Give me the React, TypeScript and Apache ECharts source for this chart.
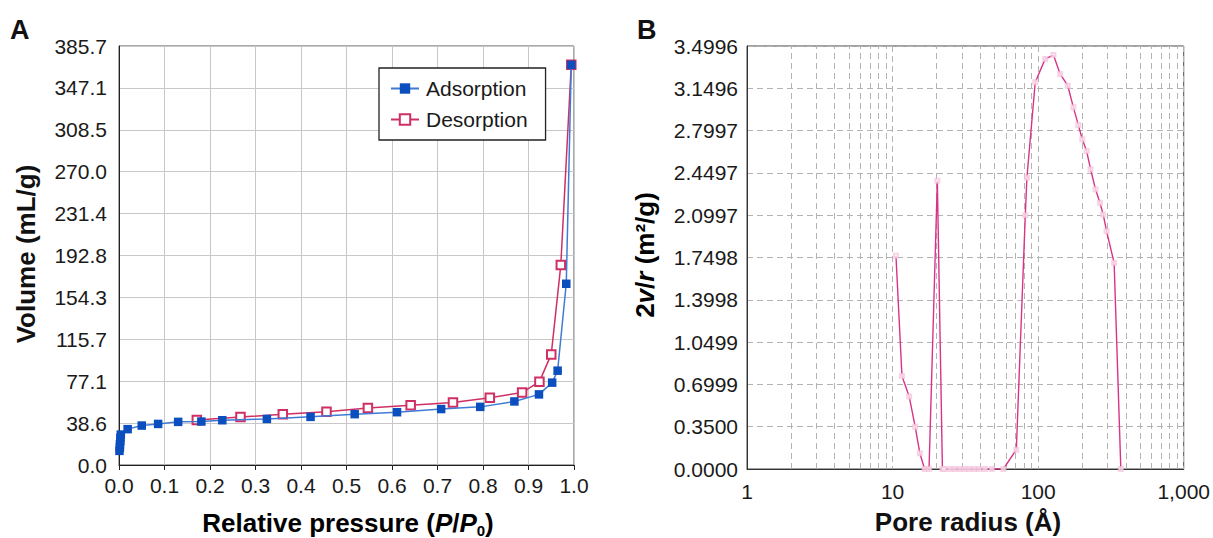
import React, { useEffect, useRef } from "react";
import * as echarts from "echarts";

// Panel A: N2 adsorption/desorption isotherm
const adsorptionP = [0.001, 0.002, 0.002, 0.003, 0.003, 0.004, 0.019, 0.05, 0.086, 0.13, 0.181, 0.227, 0.325, 0.421, 0.518, 0.611, 0.708, 0.794, 0.869, 0.923, 0.952, 0.964, 0.983, 0.994];
const adsorptionV = [13, 16, 19, 22, 25, 28, 33, 36.3, 37.8, 39.7, 40, 41.2, 42.4, 44.3, 46.8, 48.6, 51.5, 53.5, 58.5, 65, 75.8, 86.8, 166.8, 368.3];
const desorptionP = [0.171, 0.267, 0.36, 0.456, 0.547, 0.641, 0.734, 0.815, 0.886, 0.924, 0.95, 0.971, 0.994];
const desorptionV = [41.5, 44.1, 46.7, 49.0, 52.5, 54.9, 57.5, 61.9, 66.7, 76.7, 101.8, 184, 368.3];
const yTicksA = ["0.0", "38.6", "77.1", "115.7", "154.3", "192.8", "231.4", "270.0", "308.5", "347.1", "385.7"];
const xTicksA = ["0.0", "0.1", "0.2", "0.3", "0.4", "0.5", "0.6", "0.7", "0.8", "0.9", "1.0"];

// Panel B: pore size distribution
const poreRadius = [10.55, 11.6, 13.0, 14.3, 15.4, 16.6, 17.8, 20.3, 22.0, 22.6, 24.7, 26.6, 28.9, 31.1, 33.5, 36.3, 39.3, 43.1, 48.0, 57.7, 70.8, 81.6, 83.7, 95.5, 111.8, 127.4, 141.6, 159.7, 174.6, 188.9, 201, 215.3, 229.2, 247.9, 265.6, 279.8, 295, 332.6, 369.8];
const poreArea = [1.765, 0.77, 0.6, 0.35, 0.13, 0, 0, 2.385, 0, 0, 0, 0, 0, 0, 0, 0, 0, 0, 0, 0, 0.16, 2.1, 2.41, 3.2, 3.393, 3.425, 3.268, 3.171, 2.992, 2.845, 2.728, 2.63, 2.48, 2.314, 2.203, 2.106, 1.968, 1.706, 0];
const yTicksB = ["0.0000", "0.3500", "0.6999", "1.0499", "1.3998", "1.7498", "2.0997", "2.4497", "2.7997", "3.1496", "3.4996"];
const minorRadii = [2, 3, 4, 5, 6, 7, 8, 9, 20, 30, 40, 50, 60, 70, 80, 90, 200, 300, 400, 500, 600, 700, 800, 900];

const FONT = "'Liberation Sans', Arial, Helvetica, sans-serif";
const Y_MAX_A = 385.65;
const Y_INT_A = Y_MAX_A / 10;
const Y_MAX_B = 3.4996;
const Y_INT_B = Y_MAX_B / 10;

export default function App() {
  const ref = useRef<HTMLDivElement>(null);
  useEffect(() => {
    if (!ref.current) return;
    const chart = echarts.init(ref.current, undefined, { renderer: "svg" });
    const labelStyle = { fontSize: 21, color: "#1a1a1a", fontFamily: FONT };
    const titleRich = {
      b: { fontSize: 26, fontWeight: "bold", fontFamily: FONT, color: "#111", lineHeight: 30, verticalAlign: "middle" },
      i: { fontSize: 26, fontWeight: "bold", fontStyle: "italic", fontFamily: FONT, color: "#111", lineHeight: 30, verticalAlign: "middle" },
      s: { fontSize: 15, fontWeight: "bold", fontFamily: FONT, color: "#111", lineHeight: 14, verticalAlign: "bottom", padding: [14, 0, 0, 0] },
    };
    chart.setOption({
      animation: false,
      textStyle: { fontFamily: FONT },
      grid: [
        { left: 119, top: 46, width: 455, height: 419, show: true, borderColor: "#555", borderWidth: 1 },
        { left: 747, top: 46, width: 439, height: 423, show: true, borderColor: "#444", borderWidth: 1 },
      ],
      legend: {
        left: 379,
        top: 68,
        orient: "vertical",
        padding: [10, 18, 10, 11],
        itemGap: 10,
        itemWidth: 28,
        itemHeight: 13,
        borderColor: "#222",
        borderWidth: 1.3,
        backgroundColor: "#fff",
        textStyle: { fontSize: 21, color: "#1a1a1a", fontFamily: FONT, padding: [0, 0, 0, 2] },
        data: ["Adsorption", "Desorption"],
      },
      xAxis: [
        {
          type: "value", gridIndex: 0, min: 0, max: 1, interval: 0.1,
          axisLine: { lineStyle: { color: "#222", width: 1 } },
          axisTick: { show: true, length: 5, lineStyle: { color: "#222" } },
          axisLabel: { ...labelStyle, margin: 10, formatter: (v: number) => xTicksA[Math.round(v * 10)] ?? "" },
          splitLine: { show: true, lineStyle: { color: "#c8c8c8", width: 1 } },
        },
        {
          type: "log", logBase: 10, gridIndex: 1, min: 1, max: 1000,
          axisLine: { lineStyle: { color: "#333", width: 1 } },
          axisTick: { show: false },
          axisLabel: { ...labelStyle, margin: 12, formatter: (v: number) => (v >= 1000 ? "1,000" : String(Math.round(v))) },
          splitLine: { show: true, lineStyle: { color: "#b3b3b3", width: 1, type: [6, 4] } },
        },
      ],
      yAxis: [
        {
          type: "value", gridIndex: 0, min: 0, max: Y_MAX_A, interval: Y_INT_A,
          axisLine: { show: true, lineStyle: { color: "#222", width: 1 } },
          axisTick: { show: false },
          axisLabel: { ...labelStyle, margin: 12, formatter: (v: number) => yTicksA[Math.round(v / Y_INT_A)] ?? "" },
          splitLine: { show: true, lineStyle: { color: "#c8c8c8", width: 1 } },
        },
        {
          type: "value", gridIndex: 1, min: 0, max: Y_MAX_B, interval: Y_INT_B,
          axisLine: { show: true, lineStyle: { color: "#333", width: 1 } },
          axisTick: { show: false },
          axisLabel: { ...labelStyle, margin: 9, formatter: (v: number) => yTicksB[Math.round(v / Y_INT_B)] ?? "" },
          splitLine: { show: true, lineStyle: { color: "#b3b3b3", width: 1, type: [6, 4] } },
        },
      ],
      series: [
        {
          name: "Adsorption", type: "line", xAxisIndex: 0, yAxisIndex: 0,
          data: adsorptionP.map((p, i) => [p, adsorptionV[i]]),
          symbol: "rect", symbolSize: 8.5,
          lineStyle: { color: "#3f7bd4", width: 1.5 },
          itemStyle: { color: "#0b4fbe" },
          z: 3,
        },
        {
          name: "Desorption", type: "line", xAxisIndex: 0, yAxisIndex: 0,
          data: desorptionP.map((p, i) => [p, desorptionV[i]]),
          symbol: "emptyRect", symbolSize: 8.5,
          lineStyle: { color: "#cf2f63", width: 1.5 },
          itemStyle: { color: "#cf2f63", borderWidth: 1.2 },
          z: 2,
        },
        {
          name: "Pore", type: "line", xAxisIndex: 1, yAxisIndex: 1,
          data: poreRadius.map((r, i) => [r, poreArea[i]]),
          symbol: "emptyRect", symbolSize: 4,
          lineStyle: { color: "#d83387", width: 1.4 },
          itemStyle: { color: "#f4c0da", borderWidth: 1, opacity: 0.7 },
          markLine: {
            z: 1, silent: true, symbol: ["none", "none"], label: { show: false },
            lineStyle: { color: "#b3b3b3", width: 1, type: [6, 4] },
            emphasis: { disabled: true },
            data: minorRadii.map((r) => ({ xAxis: r })),
          },
        },
      ],
      graphic: [
        { type: "text", left: 10, top: 16, style: { text: "A", fontSize: 27, fontWeight: "bold", fontFamily: FONT, fill: "#111" } },
        { type: "text", left: 637, top: 16, style: { text: "B", fontSize: 27, fontWeight: "bold", fontFamily: FONT, fill: "#111" } },
        {
          type: "text", x: 348, y: 523,
          style: { text: "{b|Relative pressure (}{i|P}{b|/}{i|P}{s|0}{b|)}", rich: titleRich, align: "center", verticalAlign: "middle" },
        },
        {
          type: "text", x: 26, y: 254, rotation: Math.PI / 2,
          style: { text: "Volume (mL/g)", fontSize: 26, fontWeight: "bold", fontFamily: FONT, fill: "#111", align: "center", verticalAlign: "middle" },
        },
        {
          type: "text", x: 968, y: 522,
          style: { text: "Pore radius (Å)", fontSize: 26, fontWeight: "bold", fontFamily: FONT, fill: "#111", align: "center", verticalAlign: "middle" },
        },
        {
          type: "text", x: 645, y: 255, rotation: Math.PI / 2,
          style: { text: "{b|2}{i|v}{b|/}{i|r}{b| (m²/g)}", rich: titleRich, align: "center", verticalAlign: "middle" },
        },
      ],
    });
    return () => chart.dispose();
  }, []);
  return <div ref={ref} style={{ position: "fixed", left: 0, top: 0, width: 1213, height: 538, background: "#fff" }} />;
}
